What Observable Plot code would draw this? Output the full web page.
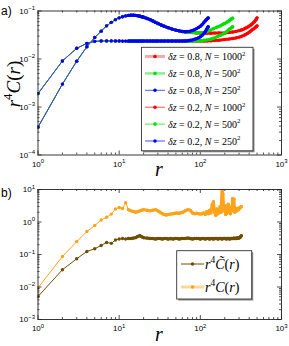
<!DOCTYPE html>
<html><head><meta charset="utf-8">
<script src="https://cdn.jsdelivr.net/npm/d3@7"></script>
<script src="https://cdn.jsdelivr.net/npm/@observablehq/plot@0.6"></script>
<style>
body{margin:0;background:#fff;}
#wrap{position:relative;width:289px;height:346px;}
#wrap svg{display:block;overflow:visible;}
</style></head><body><div id="wrap"></div>
<script>
// ---------- tick values ----------
const xMajor = [1, 10, 100, 1000];
const yMajorA = [1e-4, 1e-3, 1e-2, 1e-1];
const yMajorB = [1e-3, 1e-2, 1e-1, 1, 10];

// ---------- panel a data ----------
const rBase = [1,2,3,4,5,6,7,8,9,10,11,12,13,14,15,16,17,18,19,20,22,24,26,28,30,33,36,40,45,50,55,60];
const upperBase = [3.8e-4,3.0e-3,9.0e-3,1.8e-2,2.8e-2,3.8e-2,4.9e-2,5.8e-2,6.6e-2,7.2e-2,
  7.6e-2,7.9e-2,8.1e-2,8.2e-2,8.2e-2,8.1e-2,8.0e-2,7.8e-2,7.6e-2,7.4e-2,
  7.0e-2,6.6e-2,6.2e-2,5.8e-2,5.5e-2,5.1e-2,4.8e-2,4.5e-2,4.2e-2,4.0e-2,3.85e-2,3.75e-2];
const lowerBase = [1.9e-3,9.1e-3,1.67e-2,2.12e-2,2.33e-2,2.37e-2,2.38e-2,2.38e-2,2.37e-2,2.37e-2,
  2.36e-2,2.36e-2,2.36e-2,2.36e-2,2.36e-2,2.36e-2,2.36e-2,2.36e-2,2.36e-2,2.36e-2,
  2.36e-2,2.36e-2,2.36e-2,2.36e-2,2.36e-2,2.36e-2,2.36e-2,2.36e-2,2.36e-2,2.36e-2,2.36e-2,2.36e-2];

const rTail250 = [65,70,75,80,85,90,95,100,105,110,114,117,120,122,124,125];
const upTail250 = [0.037,0.0375,0.038,0.0392,0.041,0.043,0.0455,0.048,0.052,0.057,0.061,0.064,0.067,0.069,0.071,0.072];
const lowTail250 = [0.0238,0.0241,0.0245,0.025,0.0257,0.0266,0.0277,0.029,0.031,0.0335,0.036,0.039,0.042,0.044,0.046,0.047];

const rTail500 = [65,70,75,80,90,100,110,120,133,145,160,176,190,200,214,225,232,238,243,247,250];
const upTail500 = [0.0368,0.0362,0.0358,0.0355,0.0352,0.0352,0.0358,0.037,0.040,0.043,0.046,0.049,0.053,0.055,0.059,0.062,0.065,0.067,0.069,0.070,0.071];
const lowTail500 = [0.0236,0.0236,0.0236,0.0237,0.0238,0.024,0.0245,0.025,0.0258,0.027,0.029,0.031,0.033,0.035,0.038,0.041,0.043,0.044,0.045,0.046,0.047];

const rTail1000 = [65,70,75,80,90,100,110,120,135,150,170,200,225,250,275,300,320,343,360,380,400,415,430,450,465,480,490,500];
const upTail1000 = [0.0368,0.0362,0.0358,0.0355,0.035,0.0347,0.0345,0.0345,0.0345,0.0346,0.0348,0.035,0.0356,0.0365,0.0376,0.039,0.0402,0.042,0.0438,0.046,0.0485,0.0505,0.053,0.057,0.060,0.064,0.068,0.072];
const lowTail1000 = [0.0236,0.0236,0.0236,0.0236,0.0236,0.0236,0.0237,0.0238,0.024,0.0243,0.0247,0.0255,0.026,0.0267,0.0275,0.0285,0.0295,0.031,0.0323,0.034,0.036,0.038,0.040,0.042,0.044,0.046,0.0475,0.049];

const seriesLabelsA = ["δz = 0.8, N = 1000","δz = 0.8, N = 500","δz = 0.8, N = 250","δz = 0.2, N = 1000","δz = 0.2, N = 500","δz = 0.2, N = 250"];

// ---------- panel b data ----------
const rB = [1,2,3,4,5,6,7,8,9,10,11,12,13,14,15,16,17,18,19,20,
  22,24,26,28,30,32,34,36,38,40,43,46,49,52,55,58,61,
  65,70,75,80,85,90,95,100,
  105,110,115,120,125,130,135,140,145,150,155,160,165,170,175,180,185,190,195,200,
  205,210,215,220,225,230,235,240,245,250,255,260,265,270,275,280,285,290,295,300,305,310,315,320];
const cTilde = [0.0051,0.034,0.074,0.124,0.15,0.19,0.235,0.22,0.28,0.30,0.31,0.30,0.31,0.31,0.32,0.33,0.36,0.38,0.35,0.33,
  0.32,0.31,0.31,0.30,0.31,0.31,0.30,0.31,0.31,0.30,0.31,0.30,0.31,0.31,0.30,0.31,0.31,
  0.31,0.32,0.31,0.30,0.31,0.31,0.31,0.30,
  0.31,0.31,0.30,0.31,0.31,0.30,0.31,0.31,0.30,0.31,0.31,0.31,0.30,0.31,0.31,0.31,0.30,0.31,0.31,0.31,
  0.31,0.30,0.31,0.31,0.31,0.30,0.31,0.31,0.31,0.31,0.31,0.32,0.31,0.31,0.32,0.31,0.32,0.32,0.33,0.32,0.33,0.34,0.36,0.38];
const cPlain = [0.0094,0.087,0.25,0.51,0.78,1.15,1.4,1.75,2.5,2.8,2.6,3.9,2.4,2.2,2.1,2.0,2.1,2.2,2.3,2.4,
  2.3,2.2,2.3,2.4,2.2,2.0,1.8,1.7,1.65,1.7,1.75,1.8,1.85,1.9,1.85,1.95,2.0,
  2.2,2.4,2.3,1.9,1.8,1.85,1.8,1.75,
  1.8,1.9,1.7,2.1,1.8,2.3,1.9,3.4,4.2,2.0,1.6,2.5,1.8,2.2,3.0,2.0,10.5,7.0,2.2,3.2,
  1.7,2.4,1.9,3.5,2.0,2.6,1.8,2.9,2.2,5.3,2.3,5.0,2.0,2.7,2.1,2.5,2.3,2.6,2.4,2.7,2.6,2.8,2.9,3.0];

// ---------- helpers ----------
const RED = "#ff0000", GREEN = "#00e000", BLUE = "#0000ff";
const BROWN = "#6f4e00", ORANGE = "#ffa31a";
const ns = "http://www.w3.org/2000/svg";

function join(rs, vs) { return rs.map((r, i) => ({r, v: vs[i]})); }
function build(base, tailR, tailV) {
  return join(rBase, base).filter(d => d.r < tailR[0]).concat(join(tailR, tailV));
}
function minorTicks(lo, hi) {
  const out = [];
  for (let e = Math.round(Math.log10(lo)); e < Math.round(Math.log10(hi)); e++) for (let k = 2; k <= 9; k++) out.push(k * Math.pow(10, e));
  return out;
}
const fmtPow = d => "10^" + String(Math.round(Math.log10(d))).replace("-", "−");

function frameTicks(xmaj, ymaj, ydom, innerW, innerH) {
  const xmin = minorTicks(1, 1000), ymin = minorTicks(ydom[0], ydom[1]);
  const st = {stroke: "#222", strokeWidth: 0.8};
  return [
    Plot.tickX(xmaj, {x: d => d, insetTop: innerH - 4, ...st}),
    Plot.tickX(xmaj, {x: d => d, insetBottom: innerH - 4, ...st}),
    Plot.tickX(xmin, {x: d => d, insetTop: innerH - 2, ...st}),
    Plot.tickX(xmin, {x: d => d, insetBottom: innerH - 2, ...st}),
    Plot.tickY(ymaj, {y: d => d, insetRight: innerW - 4, ...st}),
    Plot.tickY(ymaj, {y: d => d, insetLeft: innerW - 4, ...st}),
    Plot.tickY(ymin, {y: d => d, insetRight: innerW - 2, ...st}),
    Plot.tickY(ymin, {y: d => d, insetLeft: innerW - 2, ...st}),
    Plot.axisX(xmaj, {anchor: "bottom", tickSize: 0, tickPadding: 6, tickFormat: fmtPow, label: null}),
    Plot.axisY(ymaj, {anchor: "left", tickSize: 0, tickPadding: 3, tickFormat: fmtPow, label: null}),
    Plot.frame({stroke: "#222", strokeWidth: 0.9})
  ];
}
function seriesMarks(data, color, lineColor) {
  return [
    Plot.line(data, {x: "r", y: "v", stroke: lineColor || color, strokeWidth: 1, clip: true}),
    Plot.line(data.filter(d => d.r >= 13), {x: "r", y: "v", stroke: color, strokeWidth: 3, clip: true}),
    Plot.dot(data, {x: "r", y: "v", r: 1.7, fill: color, clip: true})
  ];
}
function fixSuperscripts(svg) {
  svg.querySelectorAll("text").forEach(t => {
    const s = t.textContent;
    if (!s.includes("^")) return;
    const [b, e] = s.split("^");
    while (t.firstChild) t.removeChild(t.firstChild);
    t.appendChild(document.createTextNode(b));
    const ts = document.createElementNS(ns, "tspan");
    ts.setAttribute("dy", "-3.5");
    ts.setAttribute("font-size", "6");
    ts.textContent = e;
    t.appendChild(ts);
  });
}
function mathText(g, parts, size) {
  const text = g.append("text").attr("font-family", "Liberation Serif").attr("font-size", size).attr("text-anchor", "start").attr("fill", "#000");
  let up = false;
  parts.forEach(p => {
    const ts = text.append("tspan").text(p.t);
    if (p.i) ts.attr("font-style", "italic");
    if (p.sup && !up) { ts.attr("dy", -size * 0.42).attr("font-size", size * 0.68); up = true; }
    else if (p.sup) ts.attr("font-size", size * 0.68);
    else if (up) { ts.attr("dy", size * 0.42); up = false; }
  });
  return text;
}
function legendBox(svg, x, y, w, h) {
  svg.append("rect").attr("x", x + 1.5).attr("y", y + 1.5).attr("width", w).attr("height", h).attr("fill", "#8a8a8a");
  svg.append("rect").attr("x", x).attr("y", y).attr("width", w).attr("height", h).attr("fill", "#fff").attr("stroke", "#333").attr("stroke-width", 0.9);
}
function legendRow(svg, x1, x2, y, lineColor, lineW, markColor) {
  svg.append("line").attr("x1", x1).attr("x2", x2).attr("y1", y).attr("y2", y).attr("stroke", lineColor).attr("stroke-width", lineW);
  svg.append("circle").attr("cx", (x1 + x2) / 2).attr("cy", y).attr("r", 1.8).attr("fill", markColor);
}

const wrap = document.getElementById("wrap");
const W = 289, H = 173;
const style = {fontSize: "8px", fontFamily: "Liberation Sans, Arial, sans-serif", color: "#000", background: "transparent", overflow: "visible"};

// ---------- panel a ----------
{
  const mt = 10.5, mb = 18.5, ml = 37.5, mr = 8;
  const innerW = W - ml - mr, innerH = H - mt - mb;
  const up1000 = build(upperBase, rTail1000, upTail1000), lo1000 = build(lowerBase, rTail1000, lowTail1000);
  const up500 = build(upperBase, rTail500, upTail500), lo500 = build(lowerBase, rTail500, lowTail500);
  const up250 = build(upperBase, rTail250, upTail250), lo250 = build(lowerBase, rTail250, lowTail250);
  const svgA = Plot.plot({
    width: W, height: H, marginTop: mt, marginBottom: mb, marginLeft: ml, marginRight: mr,
    style,
    x: {type: "log", domain: [1, 1000], axis: null},
    y: {type: "log", domain: [1e-4, 1e-1], axis: null},
    marks: [
      ...seriesMarks(up1000, RED), ...seriesMarks(lo1000, RED),
      ...seriesMarks(up500, GREEN), ...seriesMarks(lo500, GREEN),
      ...seriesMarks(up250, BLUE, "#2a50e8"), ...seriesMarks(lo250, BLUE, "#2a50e8"),
      ...frameTicks(xMajor, yMajorA, [1e-4, 1e-1], innerW, innerH)
    ]
  });
  fixSuperscripts(svgA);
  const s = d3.select(svgA);
  s.append("text").attr("x", 1).attr("y", 15).attr("font-size", 12).attr("text-anchor", "start").attr("font-family", "Liberation Sans").text("a)");
  mathText(s.append("g"), [{t: "r", i: true}], 20).attr("x", 159).attr("y", 176).attr("text-anchor", "middle");
  mathText(s.append("g"), [{t: "r", i: true}, {t: "4", sup: true}, {t: "C", i: true}, {t: "("}, {t: "r", i: true}, {t: ")"}], 19)
    .attr("text-anchor", "middle").attr("transform", "translate(20,84) rotate(-90)");
  const lx = 141.5, ly = 47.3, lw = 111.5, lh = 103.5;
  legendBox(s, lx, ly, lw, lh);
  const cols = [RED, GREEN, BLUE, RED, GREEN, BLUE];
  const pale = ["#f7a8a8", "#8af08a", "#4a5cf0", "#ff5050", "#40f040", "#4050ff"];
  const widths = [3, 2.5, 1, 1, 1, 1];
  seriesLabelsA.forEach((lab, i) => {
    const y = 56.5 + i * 16.9;
    legendRow(s, 145, 165, y, pale[i], widths[i], cols[i]);
    const m = lab.match(/δz = ([\d.]+), N = (\d+)/);
    mathText(s.append("g"), [{t: "δz", i: true}, {t: " = " + m[1] + ", "}, {t: "N", i: true}, {t: " = " + m[2]}, {t: "2", sup: true}], 10)
      .attr("x", 168).attr("y", y + 3.5);
  });
  wrap.appendChild(svgA);
}

// ---------- panel b ----------
{
  const mt = 16, mb = 27, ml = 37.5, mr = 8;
  const innerW = W - ml - mr, innerH = H - mt - mb;
  const dT = join(rB, cTilde), dC = join(rB, cPlain);
  const svgB = Plot.plot({
    width: W, height: H, marginTop: mt, marginBottom: mb, marginLeft: ml, marginRight: mr,
    style,
    x: {type: "log", domain: [1, 1000], axis: null},
    y: {type: "log", domain: [1e-3, 10], axis: null},
    marks: [
      ...seriesMarks(dT, BROWN),
      ...seriesMarks(dC, ORANGE),
      ...frameTicks(xMajor, yMajorB, [1e-3, 10], innerW, innerH)
    ]
  });
  fixSuperscripts(svgB);
  const s = d3.select(svgB);
  s.append("text").attr("x", 1).attr("y", 24).attr("font-size", 12).attr("text-anchor", "start").attr("font-family", "Liberation Sans").text("b)");
  mathText(s.append("g"), [{t: "r", i: true}], 20).attr("x", 159).attr("y", 168).attr("text-anchor", "middle");
  legendBox(s, 176.7, 77.7, 75, 48.3);
  legendRow(s, 181, 204, 91, BROWN, 1, BROWN);
  legendRow(s, 181, 204, 114, "#ffd79a", 3, ORANGE);
  mathText(s.append("g"), [{t: "r", i: true}, {t: "4", sup: true}, {t: "C̃", i: true}, {t: "("}, {t: "r", i: true}, {t: ")"}], 14)
    .attr("x", 205).attr("y", 95.5);
  mathText(s.append("g"), [{t: "r", i: true}, {t: "4", sup: true}, {t: "C", i: true}, {t: "("}, {t: "r", i: true}, {t: ")"}], 14)
    .attr("x", 205).attr("y", 118.5);
  wrap.appendChild(svgB);
}
</script></body></html>
